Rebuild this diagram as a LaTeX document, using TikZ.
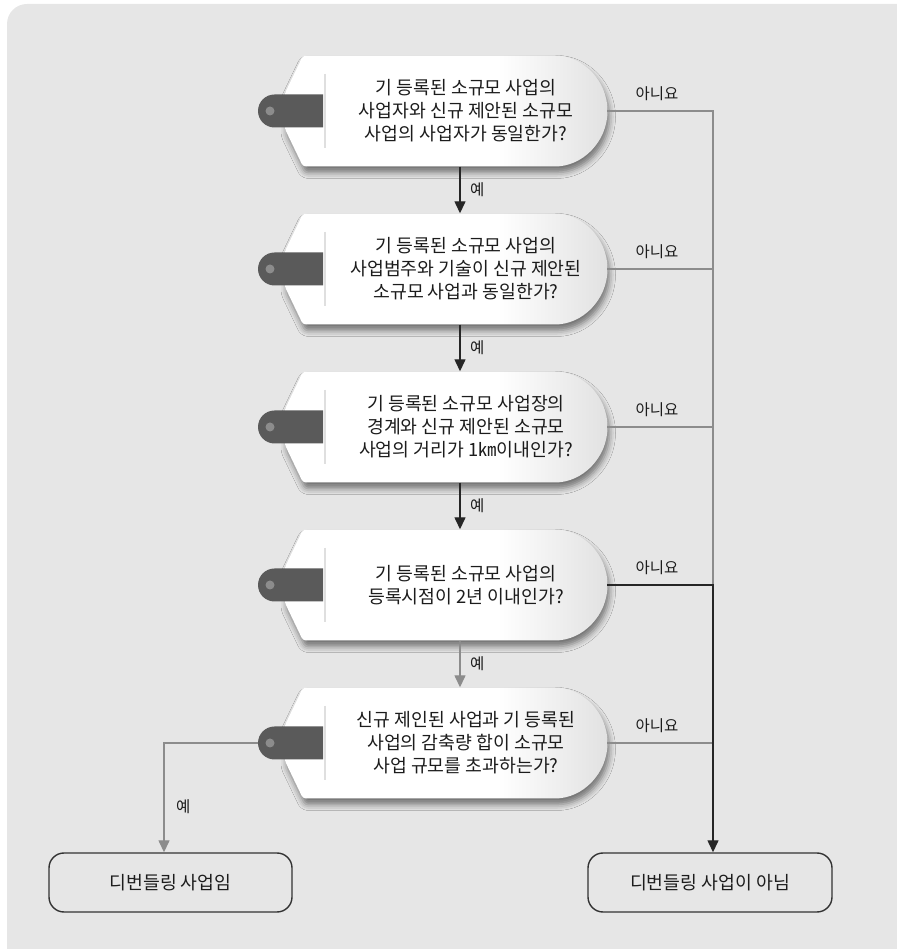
\documentclass[tikz,border=0pt]{standalone}
\usepackage{fontspec}
\usepackage{xcolor}
\newfontfamily\krfont{Noto Sans CJK KR}
\usetikzlibrary{arrows.meta,positioning,calc,shadows.blur}
\pgfdeclarehorizontalshading{tagshade}{100bp}{color(0bp)=(white); color(58bp)=(white); color(80bp)=(gray!30); color(100bp)=(gray!85)}
\definecolor{bgcol}{HTML}{E6E6E6}
\definecolor{txtcol}{HTML}{1C1C1C}
\definecolor{handlecol}{HTML}{5A5A5A}

\begin{document}
\begin{tikzpicture}[x=1pt,y=1pt,
    tagbody/.style={shading=tagshade,rounded corners=3pt,
      blur shadow={shadow xshift=2pt,shadow yshift=-6pt,shadow blur radius=6pt,shadow opacity=50}},
    qtext/.style={align=center,text=txtcol,font=\krfont\fontsize{18.3}{23}\selectfont},
    small/.style={text=txtcol,font=\krfont\fontsize{15.5}{18}\selectfont},
    endbox/.style={draw=black!80,line width=1.4pt,rounded corners=15pt,minimum width=243pt,
      minimum height=59pt,text=txtcol,font=\krfont\fontsize{18.3}{21}\selectfont},
    blackline/.style={draw=black!85,line width=1.4pt},
    grayline/.style={draw=black!45,line width=1.4pt},
    tip/.style={-{Triangle[length=12pt,width=11pt]}}]
    \useasboundingbox (0,0) rectangle (896,949);
    \fill[bgcol,rounded corners=20pt] (7,-30) rectangle (930,945);
    % question tags
    \foreach \i/\txt in {%
      1/{기 등록된 소규모 사업의\\사업자와 신규 제안된 소규모\\사업의 사업자가 동일한가?},%
      2/{기 등록된 소규모 사업의\\사업범주와 기술이 신규 제안된\\소규모 사업과 동일한가?},%
      3/{기 등록된 소규모 사업장의\\경계와 신규 제안된 소규모\\사업의 거리가 1㎞이내인가?},%
      4/{기 등록된 소규모 사업의\\등록시점이 2년 이내인가?},%
      5/{신규 제인된 사업과 기 등록된\\사업의 감축량 합이 소규모\\사업 규모를 초과하는가?}} {
      \pgfmathsetmacro\Y{838-158*(\i-1)}
      \shade[tagbody] (303,\Y+55.5) -- (552,\Y+55.5) arc[start angle=90,end angle=-90,radius=55.5]
        -- (303,\Y-55.5) -- (285,\Y-18) -- (285,\Y+18) -- cycle;
      \fill[handlecol] (323,\Y+16.5) -- (274.5,\Y+16.5) arc[start angle=90,end angle=270,radius=16.5]
        -- (323,\Y-16.5) -- cycle;
      \fill[black!45] (270,\Y) circle (4.5);
      \draw[gray!25,line width=1.5pt] (325,\Y+37) -- (325,\Y-37);
      \node[minimum width=322pt,minimum height=111pt,inner sep=0pt] (t\i) at (446,\Y) {};
      \node[qtext] (q\i) at (466,\Y) {\txt};
      \coordinate (h\i) at (258,\Y);
      \node[small] (n\i) at (657,\Y+17) {아니요};
    }
    % end boxes
    \node[endbox] (yes) at (170.5,66.5) {디번들링 사업임};
    \node[endbox,minimum width=244pt] (no) at (710,66.5) {디번들링 사업이 아님};
    \coordinate (rail) at (713,0);
    % yes arrows
    \foreach \a/\b/\st in {1/2/blackline,2/3/blackline,3/4/blackline,4/5/grayline}
      \draw[\st,tip] ([xshift=14pt]t\a.south) -- node[small,right=6pt] {예} ([xshift=14pt]t\b.north);
    \draw[grayline,tip] (h5) -| node[small,pos=0.79,right=8pt] {예} ([xshift=-6.5pt]yes.north);
    % no lines
    \draw[grayline] (t1.east) -- (t1.east -| rail) -- (t4.east -| rail);
    \foreach \i in {2,3,5}
      \draw[grayline] (t\i.east) -- (t\i.east -| rail);
    \draw[blackline,tip] (t4.east) -- (t4.east -| rail) -- (rail |- no.north);
\end{tikzpicture}
\end{document}
